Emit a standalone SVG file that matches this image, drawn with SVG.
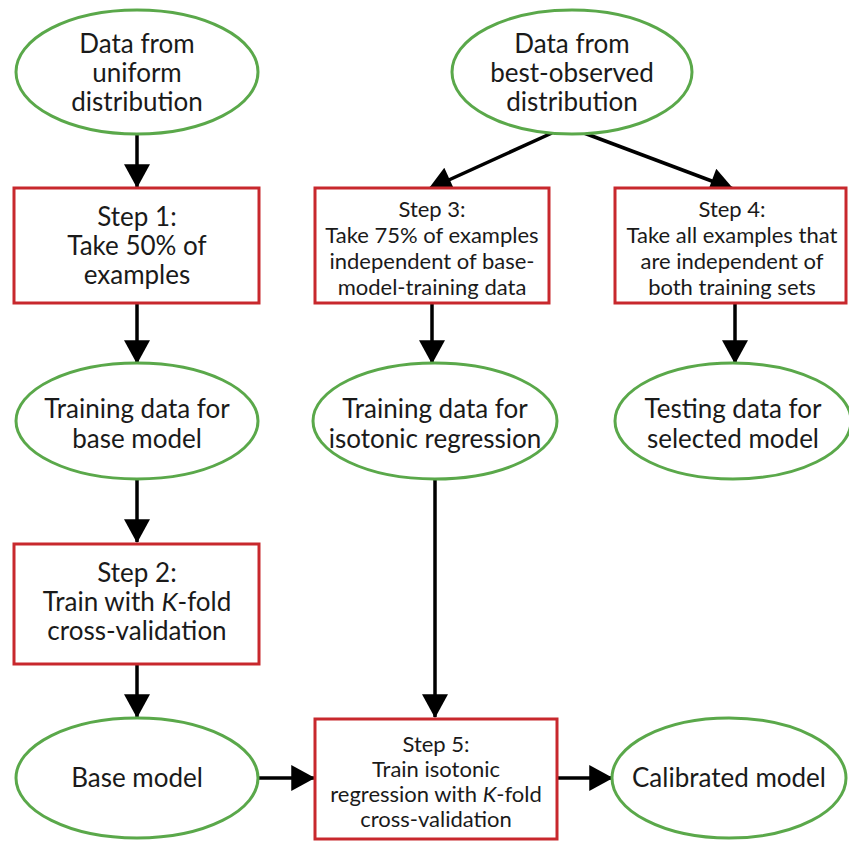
<svg xmlns="http://www.w3.org/2000/svg" width="849" height="845" viewBox="0 0 849 845">
<defs>
<marker id="ah" markerUnits="userSpaceOnUse" markerWidth="26" markerHeight="26" viewBox="0 0 22 24" refX="21" refY="12" orient="auto">
<path d="M0,0 L22,12 L0,24 Z" fill="#000"/>
</marker>
<style>
.el{fill:#fff;stroke:#5aa84a;stroke-width:3}
.bx{fill:#fff;stroke:#c8282d;stroke-width:3}
.cn{stroke:#000;stroke-width:3.5;fill:none;marker-end:url(#ah)}
text{font-family:Lato,"Open Sans","Liberation Sans",sans-serif;fill:#1a1a1a;text-anchor:middle}
.t1{font-size:26px}
.t2{font-size:22px}
</style>
</defs>
<rect width="849" height="845" fill="#fff"/>
<g id="connectors">
<line class="cn" x1="137" y1="134" x2="137" y2="187"/>
<line class="cn" x1="137" y1="304" x2="137" y2="363"/>
<line class="cn" x1="137" y1="479" x2="137" y2="542"/>
<line class="cn" x1="137" y1="664" x2="137" y2="717"/>
<line class="cn" x1="552" y1="133" x2="429" y2="189"/>
<line class="cn" x1="584" y1="133" x2="733" y2="189"/>
<line class="cn" x1="432" y1="304" x2="432" y2="363"/>
<line class="cn" x1="735" y1="304" x2="735" y2="363"/>
<line class="cn" x1="435" y1="479" x2="435" y2="717"/>
<line class="cn" x1="259" y1="778" x2="314" y2="778"/>
<line class="cn" x1="558" y1="778" x2="612" y2="778"/>
</g>
<g id="n_uniform">
<ellipse class="el" cx="137" cy="72" rx="121" ry="62"/>
<text class="t1" x="137" y="53">Data from</text>
<text class="t1" x="137" y="82">uniform</text>
<text class="t1" x="137" y="111">distribution</text>
</g>
<g id="n_step1">
<rect class="bx" x="14" y="188" width="245" height="115"/>
<text class="t1" x="137" y="226">Step 1:</text>
<text class="t1" x="137" y="255">Take 50% of</text>
<text class="t1" x="137" y="284">examples</text>
</g>
<g id="n_trainbase">
<ellipse class="el" cx="137" cy="421" rx="121" ry="58"/>
<text class="t1" x="137" y="418">Training data for</text>
<text class="t1" x="137" y="448">base model</text>
</g>
<g id="n_step2">
<rect class="bx" x="14" y="544" width="245" height="120"/>
<text class="t1" x="137" y="582">Step 2:</text>
<text class="t1" x="137" y="611">Train with <tspan font-style="italic">K</tspan>-fold</text>
<text class="t1" x="137" y="640">cross-validation</text>
</g>
<g id="n_base">
<ellipse class="el" cx="137" cy="778" rx="121" ry="60"/>
<text class="t1" x="137" y="787">Base model</text>
</g>
<g id="n_best">
<ellipse class="el" cx="572" cy="72" rx="120" ry="62"/>
<text class="t1" x="572" y="53">Data from</text>
<text class="t1" x="572" y="82">best-observed</text>
<text class="t1" x="572" y="111">distribution</text>
</g>
<g id="n_step3">
<rect class="bx" x="315" y="188" width="234" height="115"/>
<text class="t2" x="432" y="217">Step 3:</text>
<text class="t2" x="432" y="243">Take 75% of examples</text>
<text class="t2" x="432" y="269">independent of base-</text>
<text class="t2" x="432" y="295">model-training data</text>
</g>
<g id="n_step4">
<rect class="bx" x="615" y="188" width="231" height="115"/>
<text class="t2" x="732" y="217">Step 4:</text>
<text class="t2" x="732" y="243">Take all examples that</text>
<text class="t2" x="732" y="269">are independent of</text>
<text class="t2" x="732" y="295">both training sets</text>
</g>
<g id="n_trainiso">
<ellipse class="el" cx="435" cy="421" rx="122" ry="58"/>
<text class="t1" x="435" y="418">Training data for</text>
<text class="t1" x="435" y="448">isotonic regression</text>
</g>
<g id="n_test">
<ellipse class="el" cx="733" cy="421" rx="118" ry="58"/>
<text class="t1" x="733" y="418">Testing data for</text>
<text class="t1" x="733" y="448">selected model</text>
</g>
<g id="n_step5">
<rect class="bx" x="315" y="719" width="242" height="120"/>
<text class="t2" x="436" y="752">Step 5:</text>
<text class="t2" x="436" y="777">Train isotonic</text>
<text class="t2" x="436" y="802">regression with <tspan font-style="italic">K</tspan>-fold</text>
<text class="t2" x="436" y="827">cross-validation</text>
</g>
<g id="n_calib">
<ellipse class="el" cx="729" cy="778" rx="117" ry="60"/>
<text class="t1" x="729" y="787">Calibrated model</text>
</g>
</svg>
